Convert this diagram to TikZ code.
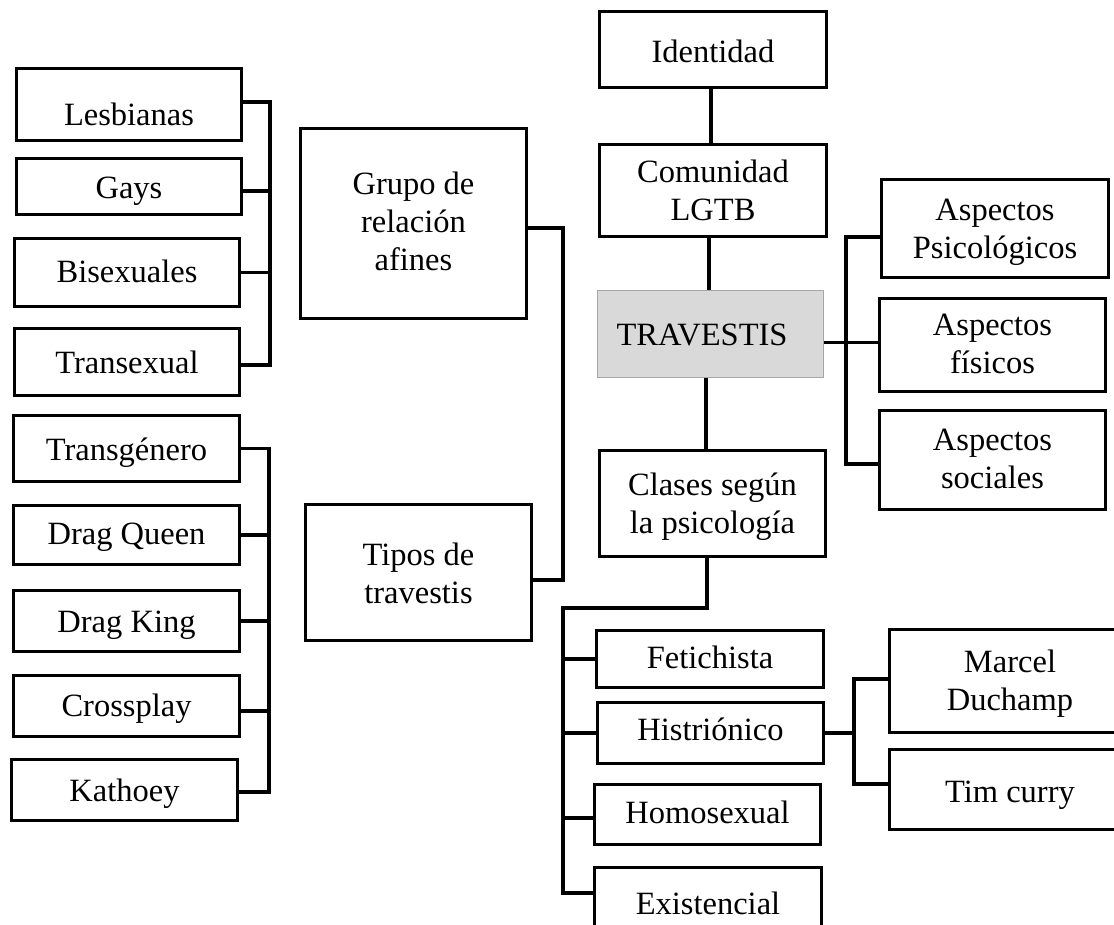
\documentclass[tikz,border=0pt]{standalone}
\usepackage{fontspec}
\setmainfont{Liberation Serif}
\newcommand{\mybox}[8][]{%
 \pgfmathsetmacro\mbw{#5-#3-3}%
 \pgfmathsetmacro\mbh{#6-#4-3}%
 \pgfmathsetmacro\mbl{(#4+#6)/2-#7}%
 \node[box,#1,minimum width=\mbw pt,minimum height=\mbh pt] (#2) at ({(#3+#5)/2},{(#4+#6)/2}) {\raisebox{\mbl pt}[0pt][0pt]{\begin{tabular}[t]{@{}c@{}}#8\end{tabular}}};}
\begin{document}
\begin{tikzpicture}[x=1pt,y=-1pt,
  box/.style={draw, line width=3.2pt, inner sep=0pt, font=\fontsize{32.5}{38}\selectfont},
  trv/.style={draw=black!35, line width=1.2pt, fill=black!15},
  ln/.style={line width=3.2pt}]
\useasboundingbox (0,0) rectangle (1114,924);
\clip (0,0) rectangle (1114,924);
% left column, group 1
\mybox{lesb}{15}{67}{243}{142}{125}{Lesbianas}
\mybox{gays}{15}{157}{243}{216}{198}{Gays}
\mybox{bis}{13}{237}{241}{308}{282}{Bisexuales}
\mybox{trans}{13}{327}{241}{397}{373}{Transexual}
% left column, group 2
\mybox{tg}{12}{414}{241}{483}{460}{Transgénero}
\mybox{dq}{12}{504}{241}{566}{544}{Drag Queen}
\mybox{dk}{12}{589}{241}{653}{632}{Drag King}
\mybox{cp}{12}{674}{241}{738}{716}{Crossplay}
\mybox{kat}{10}{758}{239}{822}{801}{Kathoey}
% second column
\mybox{grupo}{299}{127}{528}{320}{194}{Grupo de\\relación\\afines}
\mybox{tipos}{304}{503}{533}{642}{565}{Tipos de\\travestis}
% centre column
\mybox{ident}{598}{10}{828}{89}{62}{Identidad}
\mybox{comun}{598}{143}{828}{238}{182}{Comunidad\\LGTB}
\mybox[trv]{trav}{596}{289}{825}{379}{345}{TRAVESTIS\hspace*{17pt}}
\mybox{clases}{598}{449}{827}{558}{495}{Clases según\\la psicología}
\mybox{fet}{595}{629}{825}{689}{668}{Fetichista}
\mybox{hist}{596}{701}{825}{765}{740}{Histriónico}
\mybox{homo}{593}{783}{822}{846}{823}{Homosexual}
\mybox{exis}{593}{866}{823}{936}{914}{Existencial}
% right column
\mybox{psico}{880}{178}{1110}{279}{220}{Aspectos\\Psicológicos}
\mybox{fis}{878}{297}{1107}{393}{335}{Aspectos\\físicos}
\mybox{soc}{878}{409}{1107}{511}{450}{Aspectos\\sociales}
\mybox{marcel}{888}{628}{1132}{734}{672}{Marcel\\Duchamp}
\mybox{tim}{888}{748}{1132}{831}{802}{Tim curry}
% bracket positions
\coordinate (bA) at (270,0);
\coordinate (bB) at (269,0);
\coordinate (bG) at (563,0);
\coordinate (bT) at (846,0);
\coordinate (bH) at (854,0);
\coordinate (kJ) at (707,608);
% left brackets
\draw[ln] ([yshift=2.5pt]lesb.east) coordinate (a1) -- (a1 -| bA) |- ([yshift=-3pt]trans.east);
\draw[ln] ([yshift=-4.5pt]gays.east) coordinate (a2) -- (a2 -| bA);
\draw[ln] (bis.east) -- (bis.east -| bA);
\draw[ln] (tg.east) -- (tg.east -| bB) |- ([yshift=-2pt]kat.east);
\draw[ln] (dq.east) -- (dq.east -| bB);
\draw[ln] (dk.east) -- (dk.east -| bB);
\draw[ln] ([yshift=-5pt]cp.east) coordinate (a3) -- (a3 -| bB);
% grupo / tipos
\draw[ln] ([yshift=-4.5pt]grupo.east) coordinate (g1) -- (g1 -| bG) |- ([yshift=-7.5pt]tipos.east);
% centre spine
\draw[ln] ([xshift=-2pt]ident.south) coordinate (c0) -- (c0 |- comun.north);
\draw[ln] ([xshift=-4pt]comun.south) coordinate (c1) -- (c1 |- trav.north);
\draw[ln] ([xshift=-4.5pt]trav.south) coordinate (c2) -- (c2 |- clases.north);
% aspects bracket
\draw[ln] ([yshift=2.5pt]fis.west) coordinate (f1) -- (f1 -| trav.east);
\draw[ln] ([yshift=-8.5pt]psico.west) coordinate (p1) -- (p1 -| bT) |- ([yshift=-4pt]soc.west);
% classes bracket
\coordinate (e1) at ([yshift=8pt]exis.west);
\draw[ln] (kJ |- clases.south) -- (kJ) -| (e1 -| bG) -- (e1);
\draw[ln] (fet.west) -- (fet.west -| bG);
\draw[ln] (hist.west) -- (hist.west -| bG);
\draw[ln] ([yshift=-3.5pt]homo.west) coordinate (h1) -- (h1 -| bG);
% histrionico bracket
\draw[ln] (hist.east) -- (hist.east -| bH);
\coordinate (t1) at ([yshift=5.5pt]tim.west);
\draw[ln] ([yshift=2pt]marcel.west) coordinate (m1) -- (m1 -| bH) |- (t1);
\end{tikzpicture}
\end{document}
